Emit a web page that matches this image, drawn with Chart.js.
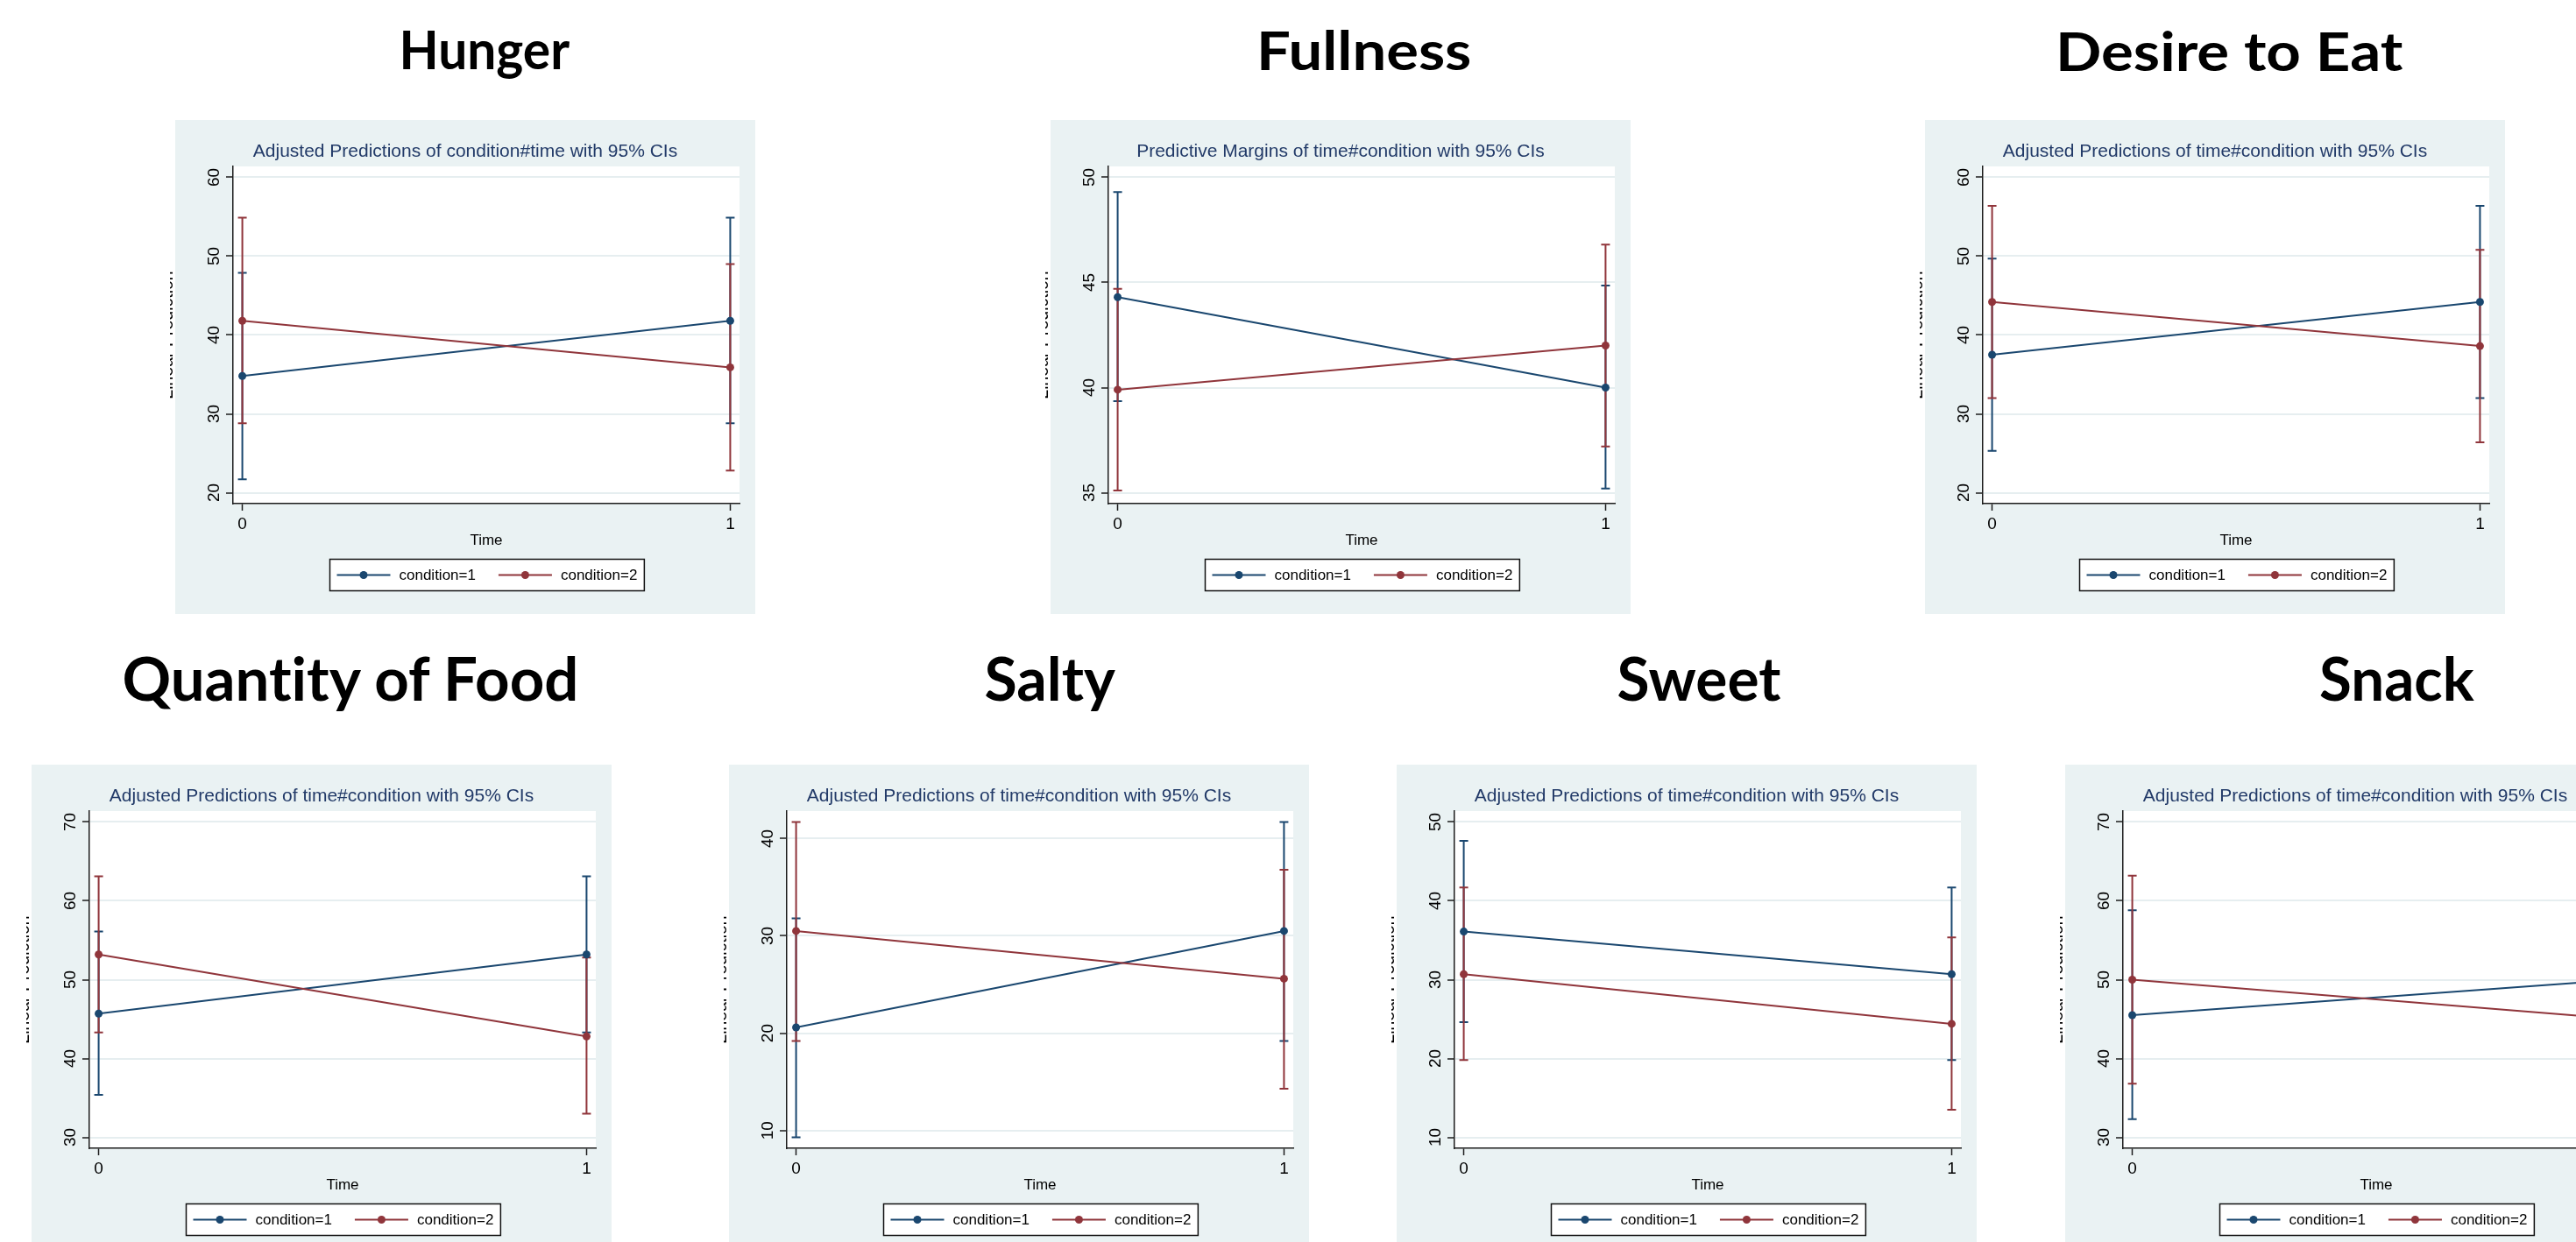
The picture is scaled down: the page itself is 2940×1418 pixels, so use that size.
<!DOCTYPE html>
<html>
<head>
<meta charset="utf-8">
<title>Margins plots by condition and time</title>
<script src="https://cdn.jsdelivr.net/npm/chart.js@4.4.1/dist/chart.umd.min.js"></script>
<style>
  html, body { margin: 0; padding: 0; background: #fff; }
  body { width: 2940px; height: 1418px; position: relative; overflow: hidden; }
  .heading { position: absolute; font-family: Lato, 'Noto Sans', sans-serif; font-weight: 700; color: #000; white-space: nowrap; line-height: 1.2; transform-origin: 50% 0; font-variant-ligatures: none; }
  .panel { position: absolute; width: 662px; height: 564px; background: #eaf2f3; }
  .panel canvas { display: block; }
  .ytitle { position: absolute; }
</style>
</head>
<body>
<script>
// Valeurs (moyenne, IC 95% bas / haut) pour time = 0, 1
const timeTicks = [0, 1];
const seriesLabels = ['condition=1', 'condition=2'];
const panelNames = ['Hunger', 'Fullness', 'Desire to Eat', 'Quantity of Food', 'Salty', 'Sweet', 'Snack'];
const plotTitles = [
  'Adjusted Predictions of condition#time with 95% CIs',
  'Predictive Margins of time#condition with 95% CIs',
  'Adjusted Predictions of time#condition with 95% CIs',
  'Adjusted Predictions of time#condition with 95% CIs',
  'Adjusted Predictions of time#condition with 95% CIs',
  'Adjusted Predictions of time#condition with 95% CIs',
  'Adjusted Predictions of time#condition with 95% CIs'
];

const hungerTicks = [20, 30, 40, 50, 60];
const hungerMean1 = [34.8, 41.8];
const hungerLow1 = [21.7, 28.8];
const hungerHigh1 = [47.9, 54.9];
const hungerMean2 = [41.8, 35.9];
const hungerLow2 = [28.8, 22.8];
const hungerHigh2 = [54.9, 49.0];

const fullnessTicks = [35, 40, 45, 50];
const fullnessMean1 = [44.3, 40.0];
const fullnessLow1 = [39.35, 35.2];
const fullnessHigh1 = [49.3, 44.85];
const fullnessMean2 = [39.9, 42.0];
const fullnessLow2 = [35.1, 37.2];
const fullnessHigh2 = [44.7, 46.8];

const desireTicks = [20, 30, 40, 50, 60];
const desireMean1 = [37.5, 44.2];
const desireLow1 = [25.3, 32.0];
const desireHigh1 = [49.7, 56.4];
const desireMean2 = [44.2, 38.6];
const desireLow2 = [32.0, 26.4];
const desireHigh2 = [56.4, 50.8];

const quantityTicks = [30, 40, 50, 60, 70];
const quantityMean1 = [45.7, 53.2];
const quantityLow1 = [35.4, 43.3];
const quantityHigh1 = [56.1, 63.1];
const quantityMean2 = [53.2, 42.8];
const quantityLow2 = [43.3, 33.0];
const quantityHigh2 = [63.1, 52.8];

const saltyTicks = [10, 20, 30, 40];
const saltyMean1 = [20.6, 30.5];
const saltyLow1 = [9.3, 19.2];
const saltyHigh1 = [31.8, 41.7];
const saltyMean2 = [30.5, 25.6];
const saltyLow2 = [19.2, 14.3];
const saltyHigh2 = [41.7, 36.8];

const sweetTicks = [10, 20, 30, 40, 50];
const sweetMean1 = [36.1, 30.7];
const sweetLow1 = [24.6, 19.8];
const sweetHigh1 = [47.6, 41.7];
const sweetMean2 = [30.7, 24.4];
const sweetLow2 = [19.8, 13.5];
const sweetHigh2 = [41.7, 35.35];

const snackTicks = [30, 40, 50, 60, 70];
const snackMean1 = [45.5, 50.0];
const snackLow1 = [32.3, 36.8];
const snackHigh1 = [58.8, 63.2];
const snackMean2 = [50.0, 45.0];
const snackLow2 = [36.8, 31.8];
const snackHigh2 = [63.2, 58.2];

// Tableau pour la construction des graphiques
const panels = [
  { ticks: hungerTicks, mean1: hungerMean1, low1: hungerLow1, high1: hungerHigh1, mean2: hungerMean2, low2: hungerLow2, high2: hungerHigh2 },
  { ticks: fullnessTicks, mean1: fullnessMean1, low1: fullnessLow1, high1: fullnessHigh1, mean2: fullnessMean2, low2: fullnessLow2, high2: fullnessHigh2 },
  { ticks: desireTicks, mean1: desireMean1, low1: desireLow1, high1: desireHigh1, mean2: desireMean2, low2: desireLow2, high2: desireHigh2 },
  { ticks: quantityTicks, mean1: quantityMean1, low1: quantityLow1, high1: quantityHigh1, mean2: quantityMean2, low2: quantityLow2, high2: quantityHigh2 },
  { ticks: saltyTicks, mean1: saltyMean1, low1: saltyLow1, high1: saltyHigh1, mean2: saltyMean2, low2: saltyLow2, high2: saltyHigh2 },
  { ticks: sweetTicks, mean1: sweetMean1, low1: sweetLow1, high1: sweetHigh1, mean2: sweetMean2, low2: sweetLow2, high2: sweetHigh2 },
  { ticks: snackTicks, mean1: snackMean1, low1: snackLow1, high1: snackHigh1, mean2: snackMean2, low2: snackLow2, high2: snackHigh2 }
];

// Mise en page (px)
const boxes = [
  { left: 200, top: 137 }, { left: 1199, top: 137 }, { left: 2197, top: 137 },
  { left: 36, top: 873 }, { left: 832, top: 873 }, { left: 1594, top: 873 }, { left: 2357, top: 873 }
];
const headingPos = [
  { x: 553, base: 79, size: 62, w: 195 }, { x: 1556, base: 80, size: 62, w: 245 }, { x: 2544, base: 81, size: 62, w: 396 },
  { x: 400, base: 800, size: 68, w: 521 }, { x: 1198, base: 800, size: 68, w: 149 }, { x: 1939, base: 800, size: 68, w: 187 }, { x: 2735, base: 800, size: 68, w: 177 }
];

const FONT = "'Liberation Sans', Arial, sans-serif";
const NAVY = '#1a476f';
const MAROON = '#90353b';
const GRID = '#e6eef0';
const AXIS = '#1c1c1c';
const TITLE_COLOR = '#223a68';

Chart.defaults.font.family = FONT;
Chart.defaults.color = '#000';

// Fond blanc de la zone de tracé
const plotRegion = {
  id: 'plotRegion',
  beforeDraw(chart) {
    const { ctx, chartArea: a } = chart;
    ctx.save();
    ctx.fillStyle = '#fff';
    ctx.fillRect(a.left, a.top, a.right - a.left, a.bottom - a.top);
    ctx.restore();
  }
};

// Intervalles de confiance (rcap)
const ciBars = {
  id: 'ciBars',
  beforeDatasetsDraw(chart) {
    const { ctx, scales: { x, y } } = chart;
    ctx.save();
    chart.data.datasets.forEach(ds => {
      ctx.strokeStyle = ds.borderColor;
      ctx.lineWidth = 2;
      ds.data.forEach((pt, i) => {
        const px = x.getPixelForValue(pt.x);
        const top = y.getPixelForValue(ds.ciHigh[i]);
        const bot = y.getPixelForValue(ds.ciLow[i]);
        ctx.beginPath();
        ctx.moveTo(px, top); ctx.lineTo(px, bot);
        ctx.moveTo(px - 5, top); ctx.lineTo(px + 5, top);
        ctx.moveTo(px - 5, bot); ctx.lineTo(px + 5, bot);
        ctx.stroke();
      });
    });
    ctx.restore();
  }
};

// Légende encadrée façon Stata
const stataLegend = {
  id: 'stataLegend',
  afterDraw(chart) {
    const { ctx, chartArea } = chart;
    const pad = 8, sample = 61, gap = 10, itemGap = 26, h = 36;
    ctx.save();
    ctx.font = '17px ' + FONT;
    const items = chart.data.datasets.map(ds => ({ ds, w: ctx.measureText(ds.label).width }));
    const total = 2 * pad + items.reduce((s, it) => s + sample + gap + it.w, 0) + itemGap * (items.length - 1);
    const cx = (chartArea.left + chartArea.right) / 2;
    const left = Math.round(cx - total / 2) + 0.5;
    const top = Math.round(chartArea.bottom + 63) + 0.5;
    ctx.fillStyle = '#fff';
    ctx.fillRect(left, top, total, h);
    ctx.strokeStyle = '#111';
    ctx.lineWidth = 1.5;
    ctx.strokeRect(left, top, total, h);
    let x = left + pad;
    const cy = top + h / 2;
    items.forEach(it => {
      ctx.strokeStyle = it.ds.borderColor;
      ctx.lineWidth = 2;
      ctx.beginPath();
      ctx.moveTo(x, cy); ctx.lineTo(x + sample, cy);
      ctx.stroke();
      ctx.fillStyle = it.ds.borderColor;
      ctx.beginPath();
      ctx.arc(x + sample / 2, cy, 4.5, 0, Math.PI * 2);
      ctx.fill();
      x += sample + gap;
      ctx.fillStyle = '#000';
      ctx.textBaseline = 'middle';
      ctx.fillText(it.ds.label, x, cy + 1);
      x += it.w + itemGap;
    });
    ctx.restore();
  }
};

function makeDataset(label, color, means, lows, highs, order) {
  return {
    label,
    data: timeTicks.map((t, i) => ({ x: t, y: means[i] })),
    ciLow: lows,
    ciHigh: highs,
    borderColor: color,
    backgroundColor: color,
    borderWidth: 2,
    pointRadius: 4.5,
    pointBorderWidth: 0,
    pointBackgroundColor: color,
    tension: 0,
    order
  };
}

function buildChart(canvas, p, title) {
  const yMin = Math.min(p.ticks[0], ...p.low1, ...p.low2);
  const yMax = Math.max(p.ticks[p.ticks.length - 1], ...p.high1, ...p.high2);
  const yPad = (yMax - yMin) * 0.0347;

  return new Chart(canvas, {
    type: 'line',
    data: {
      datasets: [
        makeDataset(seriesLabels[0], NAVY, p.mean1, p.low1, p.high1, 1),
        makeDataset(seriesLabels[1], MAROON, p.mean2, p.low2, p.high2, 0)
      ]
    },
    options: {
      responsive: false,
      animation: false,
      devicePixelRatio: 1,
      events: [],
      layout: { padding: { left: 0, right: 0, top: 0, bottom: 70 } },
      plugins: {
        legend: { display: false },
        tooltip: { enabled: false },
        title: {
          display: true,
          text: title,
          color: TITLE_COLOR,
          font: { size: 21, weight: 'normal' },
          padding: { top: 23.4, bottom: 4.4 }
        }
      },
      scales: {
        x: {
          type: 'linear',
          min: -0.019,
          max: 1.019,
          afterBuildTicks: s => { s.ticks = timeTicks.map(v => ({ value: v })); },
          afterFit: s => { s.height = 56; },
          grid: { drawOnChartArea: false, tickLength: 8, tickColor: AXIS, tickWidth: 1.5 },
          border: { display: true, color: AXIS, width: 1.5 },
          ticks: { color: '#000', font: { size: 19 }, padding: 4 },
          title: { display: true, text: 'Time', color: '#000', font: { size: 17 }, padding: { top: 0, bottom: 3 } }
        },
        y: {
          type: 'linear',
          min: yMin - yPad,
          max: yMax + yPad,
          afterBuildTicks: s => { s.ticks = p.ticks.map(v => ({ value: v })); },
          afterFit: s => { s.width = 66; },
          grid: { color: GRID, lineWidth: 2, tickLength: 8, tickColor: AXIS, tickWidth: 1.5 },
          border: { display: true, color: AXIS, width: 1.5 },
          ticks: { color: '#000', font: { size: 19 }, padding: 3, minRotation: 90, maxRotation: 90, crossAlign: 'center' }
        },
        // marge droite vide de la zone graphique
        margin: {
          type: 'linear',
          position: 'right',
          afterFit: s => { s.width = 18; },
          grid: { display: false },
          border: { display: false },
          ticks: { display: false }
        }
      }
    },
    plugins: [plotRegion, ciBars, stataLegend]
  });
}

// Bord du titre d'axe Y, presque entièrement coupé dans l'original
function drawYTitleEdge(b) {
  const c = document.createElement('canvas');
  c.className = 'ytitle';
  c.width = 3;
  c.height = 385;
  c.style.left = (b.left - 6) + 'px';
  c.style.top = (b.top + 53) + 'px';
  document.body.appendChild(c);
  const ctx = c.getContext('2d');
  ctx.font = "19.5px 'Liberation Sans', Arial, sans-serif";
  ctx.fillStyle = '#000';
  ctx.translate(3, 192.5);
  ctx.rotate(-Math.PI / 2);
  ctx.textAlign = 'center';
  ctx.textBaseline = 'alphabetic';
  ctx.fillText('Linear Prediction', 0, 0);
}

panels.forEach((p, i) => {
  const b = boxes[i];
  const hp = headingPos[i];

  const head = document.createElement('div');
  head.className = 'heading';
  head.textContent = panelNames[i];
  head.style.fontSize = hp.size + 'px';
  head.style.top = (hp.base - hp.size * 0.987) + 'px';
  document.body.appendChild(head);
  const natural = head.offsetWidth;
  head.style.left = (hp.x - natural / 2) + 'px';
  head.style.transform = 'scaleX(' + (hp.w / natural).toFixed(3) + ')';

  drawYTitleEdge(b);

  const panel = document.createElement('div');
  panel.className = 'panel';
  panel.style.left = b.left + 'px';
  panel.style.top = b.top + 'px';
  const canvas = document.createElement('canvas');
  canvas.width = 662;
  canvas.height = 564;
  panel.appendChild(canvas);
  document.body.appendChild(panel);

  buildChart(canvas, p, plotTitles[i]);
});
</script>
</body>
</html>
